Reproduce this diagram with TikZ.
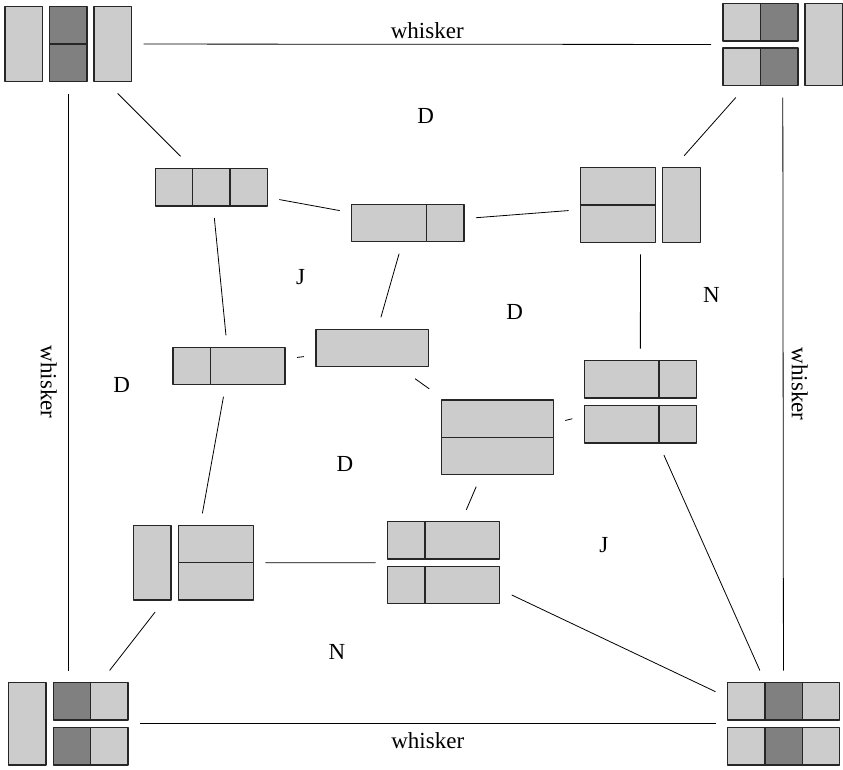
\documentclass[tikz,border=0pt]{standalone}
\usepackage{fontspec}
\setmainfont{Liberation Serif}
\usepackage{xcolor}
\usetikzlibrary{fit}

\definecolor{cellLite}{gray}{0.8}
\definecolor{cellDark}{gray}{0.5}

\tikzset{
  lite/.style={draw=black!85, fill=cellLite, line width=1.1pt},
  dark/.style={draw=black!85, fill=cellDark, line width=1.1pt},
  grp/.style={inner sep=0pt, outer sep=12pt},
  wire/.style={black, line width=0.8pt},
  lbl/.style={font=\fontsize{23}{27}\selectfont}
}

\begin{document}
\begin{tikzpicture}[x=1pt, y=-1pt, line join=round]

\useasboundingbox (0,0) rectangle (843,769);

% ---------------------------------------------------------
% Corner groups
% ---------------------------------------------------------
% top left
\draw[lite] (5,6.5) rectangle (42.5,81.5);
\draw[dark] (49.5,6.5) rectangle (87,44);
\draw[dark] (49.5,44) rectangle (87,81.5);
\draw[lite] (94,6.5) rectangle (131.5,81.5);
\node[grp, fit={(5,6.5) (131.5,81.5)}] (TL) {};

% top right
\draw[lite] (723,3.5) rectangle (760.5,41);
\draw[dark] (760.5,3.5) rectangle (798,41);
\draw[lite] (723,48) rectangle (760.5,85.5);
\draw[dark] (760.5,48) rectangle (798,85.5);
\draw[lite] (805,3.5) rectangle (842.3,85.5);
\node[grp, fit={(723,3.5) (842.5,85.5)}] (TR) {};

% bottom left
\draw[lite] (8.5,682.5) rectangle (46,765);
\draw[dark] (53.5,682.5) rectangle (90.8,720);
\draw[lite] (90.8,682.5) rectangle (128,720);
\draw[dark] (53.5,727.5) rectangle (90.8,765);
\draw[lite] (90.8,727.5) rectangle (128,765);
\node[grp, fit={(8.5,682.5) (128,765)}] (BL) {};

% bottom right
\draw[lite] (727.5,682.5) rectangle (765,720);
\draw[dark] (765,682.5) rectangle (802.3,720);
\draw[lite] (802.3,682.5) rectangle (839.5,720);
\draw[lite] (727.5,727.5) rectangle (765,765);
\draw[dark] (765,727.5) rectangle (802.3,765);
\draw[lite] (802.3,727.5) rectangle (839.5,765);
\node[grp, fit={(727.5,682.5) (839.5,765)}] (BR) {};

% ---------------------------------------------------------
% Inner groups
% ---------------------------------------------------------
\draw[lite] (155.3,168.3) rectangle (192.7,206);
\draw[lite] (192.7,168.3) rectangle (230,206);
\draw[lite] (230,168.3) rectangle (267.3,206);
\node[grp, fit={(155.3,168.3) (267.3,206)}] (A) {};

\draw[lite] (351.7,204.3) rectangle (426.3,241.7);
\draw[lite] (426.3,204.3) rectangle (464,241.7);
\node[grp, fit={(351.7,204.3) (464,241.7)}] (B) {};

\draw[lite] (580.7,167.7) rectangle (655.7,205);
\draw[lite] (580.7,205) rectangle (655.7,242.3);
\draw[lite] (662.3,167.7) rectangle (700.3,242.3);
\node[grp, fit={(580.7,167.7) (700.3,242.3)}] (H) {};

\draw[lite] (173,347.3) rectangle (210.3,384.7);
\draw[lite] (210.3,347.3) rectangle (285,384.7);
\node[grp, fit={(173,347.3) (285,384.7)}] (C) {};

\draw[lite] (316,329.3) rectangle (428.3,366.7);
\node[grp, fit={(316,329.3) (428.3,366.7)}] (E) {};

\draw[lite] (441.3,400) rectangle (553.3,437.3);
\draw[lite] (441.3,437.3) rectangle (553.3,474.7);
\node[grp, fit={(441.3,400) (553.3,474.7)}] (F) {};

\draw[lite] (584.3,360.7) rectangle (659,398);
\draw[lite] (659,360.7) rectangle (696.3,398);
\draw[lite] (584.3,405.7) rectangle (659,443);
\draw[lite] (659,405.7) rectangle (696.3,443);
\node[grp, fit={(584.3,360.7) (696.3,443)}] (G) {};

\draw[lite] (133.7,525.3) rectangle (171,600);
\draw[lite] (178.3,525.3) rectangle (253.3,562.7);
\draw[lite] (178.3,562.7) rectangle (253.3,600);
\node[grp, fit={(133.7,525.3) (253.3,600)}] (K) {};

\draw[lite] (387.7,521.7) rectangle (425,559);
\draw[lite] (425,521.7) rectangle (499.7,559);
\draw[lite] (387.7,566.3) rectangle (425,603.7);
\draw[lite] (425,566.3) rectangle (499.7,603.7);
\node[grp, fit={(387.7,521.7) (499.7,603.7)}] (I) {};

% ---------------------------------------------------------
% Whiskers
% ---------------------------------------------------------
\draw[wire] (TL) -- node[lbl, above=2pt] (wTop) {whisker} (TR);
\draw[wire] (BL) -- node[lbl, below=5.5pt] (wBot) {whisker} (BR);
\draw[wire] (TL) -- node[lbl, anchor=north, rotate=-90, inner sep=11pt] (wLeft) {whisker} (BL);
\draw[wire] (TR) -- node[lbl, anchor=south, rotate=-90, inner sep=8pt] (wRight) {whisker} (BR);

% ---------------------------------------------------------
% Links
% ---------------------------------------------------------
\draw[wire] (TL) -- (A);
\draw[wire] (A) -- (B);
\draw[wire] (A) -- (C);
\draw[wire] (B) -- (E);
\draw[wire] (B) -- (H);
\draw[wire] (H) -- (TR);
\draw[wire] (H) -- (G);
\draw[wire] (C) -- (E);
\draw[wire] (C) -- (K);
\draw[wire] (E) -- (F);
\draw[wire] (F) -- (G);
\draw[wire] (F) -- (I);
\draw[wire] (G) -- (BR);
\draw[wire] (K) -- (BL);
\draw[wire] (K) -- (I);
\draw[wire] (I) -- (BR);

% ---------------------------------------------------------
% Labels
% ---------------------------------------------------------
\node[lbl] (d1) at (425.7,116.2) {D};
\node[lbl] (d2) at (514.7,312.2) {D};
\node[lbl] (d3) at (121.7,384.5) {D};
\node[lbl] (d4) at (345,464.3) {D};
\node[lbl] (j1) at (300.5,277.2) {J};
\node[lbl] (j2) at (603.8,545.3) {J};
\node[lbl] (n1) at (711.3,294.5) {N};
\node[lbl] (n2) at (337,652) {N};

\end{tikzpicture}
\end{document}
